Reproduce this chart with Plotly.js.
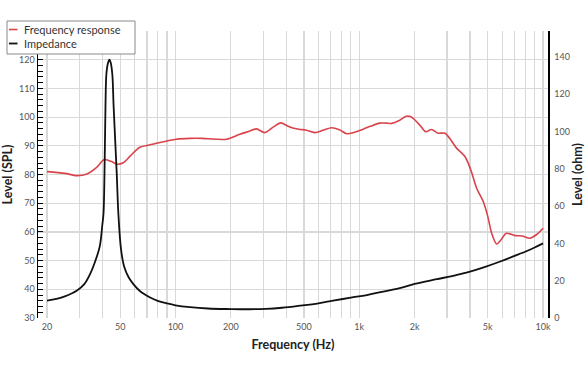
<!DOCTYPE html>
<html>
<head>
<meta charset="utf-8">
<script src="https://cdn.plot.ly/plotly-3.0.1.min.js"></script>
<style>
html,body{margin:0;padding:0;background:#fff;}
#chart{width:588px;height:372px;}
</style>
</head>
<body>
<div id="chart"></div>
<script>
// Frequency response (dB SPL, left axis)
var freqFR = [20, 25, 29, 33, 37, 41, 45, 48, 52, 57, 64, 72, 80, 90, 101, 120, 140, 165, 190, 224, 250, 276, 306, 340, 374, 410, 440, 476, 510, 574, 640, 708, 780, 856, 950, 1050, 1150, 1292, 1400, 1502, 1650, 1798, 1900, 2010, 2150, 2300, 2476, 2680, 2930, 3150, 3392, 3766, 4050, 4356, 4732, 5000, 5256, 5590, 5900, 6320, 7050, 7700, 8470, 9200, 10000];
var splValues = [81, 80.4, 79.6, 80.2, 82.3, 85.2, 84.5, 83.6, 84.1, 86.6, 89.5, 90.3, 91.0, 91.7, 92.3, 92.6, 92.6, 92.3, 92.3, 94.0, 95.0, 95.9, 94.6, 96.5, 98.0, 96.8, 96.1, 95.7, 95.5, 94.6, 95.5, 96.3, 95.6, 94.2, 94.8, 95.8, 96.8, 97.9, 97.9, 97.8, 98.8, 100.3, 100.2, 99.0, 97.0, 94.9, 95.7, 94.4, 94.4, 92.0, 89.1, 86.2, 81.5, 75.2, 70.5, 65.5, 59.5, 55.8, 57.2, 59.5, 58.7, 58.6, 57.8, 59.0, 61.3];

// Impedance (ohm, right axis)
var freqZ = [20, 22.5, 25, 27, 29, 32, 34.3, 36.3, 38.7, 40.0, 40.6, 41.1, 41.6, 42.1, 43.0, 43.7, 44.4, 45.3, 46.1, 47.9, 48.9, 50.6, 52.6, 55.5, 59, 64, 72.8, 80, 90, 100, 120, 150, 200, 250, 311, 380, 476, 600, 720, 900, 1100, 1350, 1660, 2000, 2640, 3200, 3830, 4800, 5850, 7000, 8100, 9000, 10000];
var ohmValues = [9.3, 10.2, 11.6, 13.0, 14.6, 18.3, 23.5, 29.5, 38.3, 50, 56.2, 77.7, 113, 131, 137, 138.5, 137, 131, 113, 77.7, 56, 36.5, 27.5, 22, 18.2, 14.5, 11.0, 9.2, 7.8, 6.8, 5.8, 5.1, 4.8, 4.7, 4.9, 5.5, 6.6, 7.9, 9.3, 10.9, 12.3, 14.2, 16.0, 18.3, 20.8, 22.5, 24.3, 27.3, 30.3, 33.3, 35.8, 37.8, 40];

// Axis ticks
var xGridVals = [20,30,40,50,60,70,80,90,100,200,300,400,500,600,700,800,900,1000,2000,3000,4000,5000,6000,7000,8000,9000,10000];
var xLabelMap = {20:'20',50:'50',100:'100',200:'200',500:'500',1000:'1k',2000:'2k',5000:'5k',10000:'10k'};
var xTickText = xGridVals.map(function(v){ return xLabelMap[v] || ''; });
var ohmTicks = [0,20,40,60,80,100,120,140];

var seriesNames = ['Frequency response', 'Impedance'];
var redColor = '#d9434c';

var FONT = 'Lato, "Open Sans", sans-serif';

var traces = [
  {x: freqFR, y: splValues, type: 'scatter', mode: 'lines', name: seriesNames[0],
   line: {color: redColor, width: 1.6, shape: 'spline', smoothing: 0.8}, yaxis: 'y', hoverinfo: 'skip'},
  {x: freqZ, y: ohmValues, type: 'scatter', mode: 'lines', name: seriesNames[1],
   line: {color: '#111', width: 1.8, shape: 'spline', smoothing: 1.0}, yaxis: 'y2', hoverinfo: 'skip'}
];

// legend geometry in paper coordinates
function px2x(p){ return (p - 38) / 510; }
function px2y(p){ return (318 - p) / 287; }

var layout = {
  width: 588, height: 372,
  margin: {l: 38, r: 40, t: 31, b: 54},
  paper_bgcolor: '#fff', plot_bgcolor: '#fff',
  showlegend: false,
  font: {family: FONT, color: '#333'},
  xaxis: {
    type: 'log',
    range: [1.252, 4.027],
    tickmode: 'array', tickvals: xGridVals, ticktext: xTickText,
    ticks: '', showline: false, zeroline: false,
    showgrid: true, gridcolor: '#d9d9d9', gridwidth: 1.2,
    ticklabelstandoff: 2,
    tickfont: {size: 9, color: '#555', family: FONT},
    title: {text: 'Frequency (Hz)', font: {size: 12.5, color: '#222', family: FONT, weight: 'bold'}, standoff: 9}
  },
  yaxis: {
    range: [30, 130],
    tickmode: 'linear', tick0: 30, dtick: 10,
    labelalias: {'130': ' '},
    ticks: 'inside', ticklen: 5, tickcolor: '#000', tickwidth: 1,
    minor: {dtick: 2, tick0: 30, ticks: 'inside', ticklen: 5, tickcolor: '#000', tickwidth: 1, showgrid: false},
    showline: true, linecolor: '#000', linewidth: 1.5,
    showgrid: true, gridcolor: '#d9d9d9', gridwidth: 1.2, zeroline: false,
    tickfont: {size: 9, color: '#555', family: FONT},
    title: {text: 'Level (SPL)', font: {size: 12.5, color: '#222', family: FONT, weight: 'bold'}, standoff: 3}
  },
  yaxis2: {
    overlaying: 'y', side: 'right', anchor: 'x',
    range: [0, 153.9],
    tickmode: 'array', tickvals: ohmTicks,
    ticks: '', showline: true, linecolor: '#000', linewidth: 1.5,
    showgrid: false, zeroline: false,
    ticklabelstandoff: 3,
    tickfont: {size: 9, color: '#555', family: FONT},
    title: {text: 'Level (ohm)', font: {size: 12.5, color: '#222', family: FONT, weight: 'bold'}, standoff: 4}
  },
  shapes: [
    {type: 'rect', xref: 'paper', yref: 'paper', layer: 'above',
     x0: px2x(7), x1: px2x(135), y0: px2y(54), y1: px2y(21),
     fillcolor: '#fff', line: {color: '#8a8a8a', width: 1}},
    {type: 'line', xref: 'paper', yref: 'paper', layer: 'above',
     x0: px2x(9), x1: px2x(17.5), y0: px2y(29.5), y1: px2y(29.5),
     line: {color: redColor, width: 1.6}},
    {type: 'line', xref: 'paper', yref: 'paper', layer: 'above',
     x0: px2x(9), x1: px2x(17.5), y0: px2y(43.5), y1: px2y(43.5),
     line: {color: '#111', width: 1.8}}
  ],
  annotations: [
    {xref: 'paper', yref: 'paper', x: px2x(22), y: px2y(29.5), xanchor: 'left', yanchor: 'middle',
     text: seriesNames[0], showarrow: false, font: {size: 11, color: '#333', family: FONT}},
    {xref: 'paper', yref: 'paper', x: px2x(22), y: px2y(43.5), xanchor: 'left', yanchor: 'middle',
     text: seriesNames[1], showarrow: false, font: {size: 11, color: '#333', family: FONT}}
  ]
};

Plotly.newPlot('chart', traces, layout, {displayModeBar: false, staticPlot: true});
</script>
</body>
</html>
